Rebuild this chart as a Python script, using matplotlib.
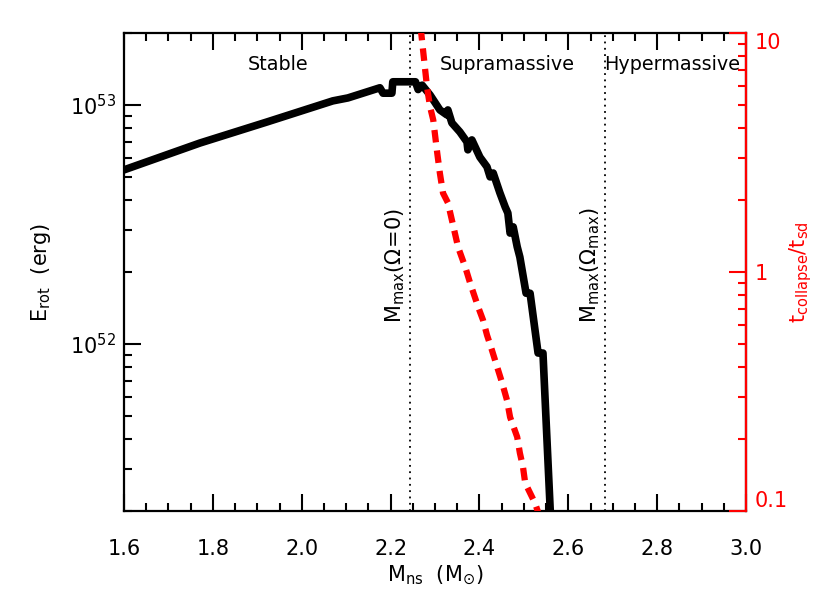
import numpy as np
import matplotlib
matplotlib.use('Agg')
import matplotlib.pyplot as plt
from matplotlib.ticker import LogLocator, FixedLocator, FixedFormatter, NullFormatter, MultipleLocator

# rotational energy vs NS mass (black, left axis)
m_rot = [1.600, 1.771, 1.922, 2.070, 2.104, 2.176, 2.183, 2.203, 2.205, 2.256,
         2.262, 2.271, 2.289, 2.311, 2.327, 2.329, 2.338, 2.356, 2.372, 2.374,
         2.383, 2.401, 2.417, 2.424, 2.431, 2.446, 2.458, 2.464, 2.469, 2.476,
         2.485, 2.491, 2.505, 2.514, 2.532, 2.543, 2.560]
e_rot = [5.35e52, 6.93e52, 8.49e52, 1.04e53, 1.07e53, 1.18e53, 1.12e53, 1.12e53, 1.25e53, 1.25e53,
         1.16e53, 1.21e53, 1.10e53, 9.53e52, 9.08e52, 9.53e52, 8.41e52, 7.71e52, 7.00e52, 6.49e52,
         7.14e52, 6.05e52, 5.51e52, 5.00e52, 5.19e52, 4.29e52, 3.74e52, 3.53e52, 2.91e52, 3.09e52,
         2.55e52, 2.31e52, 1.63e52, 1.63e52, 9.16e51, 9.16e51, 1.9e51]

# collapse time / spin-down time (red, right axis)
m_tc = [2.267, 2.269, 2.282, 2.289, 2.296, 2.305, 2.311, 2.318, 2.329, 2.338,
        2.352, 2.368, 2.379, 2.397, 2.408, 2.417, 2.428, 2.440, 2.451, 2.462,
        2.469, 2.485, 2.491, 2.498, 2.503, 2.525, 2.532]
t_ratio = [10.5, 10.0, 5.94, 4.90, 4.33, 3.15, 2.59, 2.14, 1.95, 1.65,
           1.27, 1.05, 0.90, 0.715, 0.63, 0.545, 0.472, 0.40, 0.344, 0.291,
           0.247, 0.204, 0.175, 0.153, 0.131, 0.108, 0.099]

m_lines = [2.244, 2.683]
regions = ['Stable', 'Supramassive', 'Hypermassive']
region_x = [1.947, 2.462, 2.834]

fig = plt.figure(figsize=(8.30, 5.93), dpi=100)
ax = fig.add_axes([124/830, 1-511/593, 622/830, 478/593])

ax.plot(m_rot, e_rot, color='black', lw=5.5, solid_joinstyle='round')
ax.set_yscale('log')
ax.set_xlim(1.6, 3.0)
ax.set_ylim(2e51, 2e53)

for m in m_lines:
    ax.axvline(m, color='black', lw=1.3, ls=(0, (1, 2.5)))

ax.xaxis.set_major_locator(MultipleLocator(0.2))
ax.xaxis.set_minor_locator(MultipleLocator(0.05))
ax.xaxis.set_major_formatter(plt.FuncFormatter(lambda v, p: f'{v:.1f}'))
ax.yaxis.set_major_locator(LogLocator(base=10, numticks=10))
ax.yaxis.set_minor_locator(LogLocator(base=10, subs=np.arange(2, 10), numticks=10))
ax.yaxis.set_minor_formatter(NullFormatter())
ax.tick_params(axis='x', which='both', direction='in', top=True, labelsize=15, pad=20)
ax.tick_params(axis='y', which='both', direction='in', right=False, labelsize=15, pad=6)
ax.tick_params(which='major', length=12, width=1.5)
ax.tick_params(which='minor', length=6, width=1.5)
for s in ax.spines.values():
    s.set_linewidth(1.6)

ax.set_xlabel(r'$\mathrm{M_{ns}}$  ($\mathrm{M_{\odot}}$)', fontsize=15, labelpad=4)
ax.set_ylabel(r'$\mathrm{E_{rot}}$  (erg)', fontsize=15, labelpad=12)

for name, xm in zip(regions, region_x):
    ax.text(xm, 1.48e53, name, ha='center', va='center', fontsize=13.8)

ax.text(2.236, 2.14e52, r'$\mathrm{M_{max}(\Omega\!=\!0)}$', rotation=90,
        ha='right', va='center', fontsize=15)
ax.text(2.675, 2.14e52, r'$\mathrm{M_{max}(\Omega_{max})}$', rotation=90,
        ha='right', va='center', fontsize=15)

ax2 = ax.twinx()
ax2.set_position(ax.get_position())
ax2.plot(m_tc, t_ratio, color='red', lw=4.5, dashes=(2.0, 1.3))
ax2.set_yscale('log')
ax2.set_ylim(0.1, 10)
ax2.yaxis.set_major_locator(FixedLocator([0.1, 1, 10]))
ax2.yaxis.set_major_formatter(FixedFormatter(['0.1', '1', '10']))
ax2.yaxis.set_minor_locator(LogLocator(base=10, subs=np.arange(2, 10), numticks=10))
ax2.yaxis.set_minor_formatter(NullFormatter())
ax2.tick_params(axis='y', which='both', direction='in', colors='red', labelsize=15, pad=6)
ax2.tick_params(which='major', length=12, width=1.5)
ax2.tick_params(which='minor', length=6, width=1.5)
ax2.spines['right'].set_color('red')
ax2.spines['right'].set_linewidth(1.6)
for k in ['left', 'top', 'bottom']:
    ax2.spines[k].set_visible(False)
labs = ax2.get_yticklabels()
labs[0].set_va('bottom')
labs[-1].set_va('top')
ax2.set_ylabel(r'$\mathrm{t_{collapse}/t_{sd}}$', color='red', fontsize=15, labelpad=0)

fig.savefig('out.png', dpi=100)
